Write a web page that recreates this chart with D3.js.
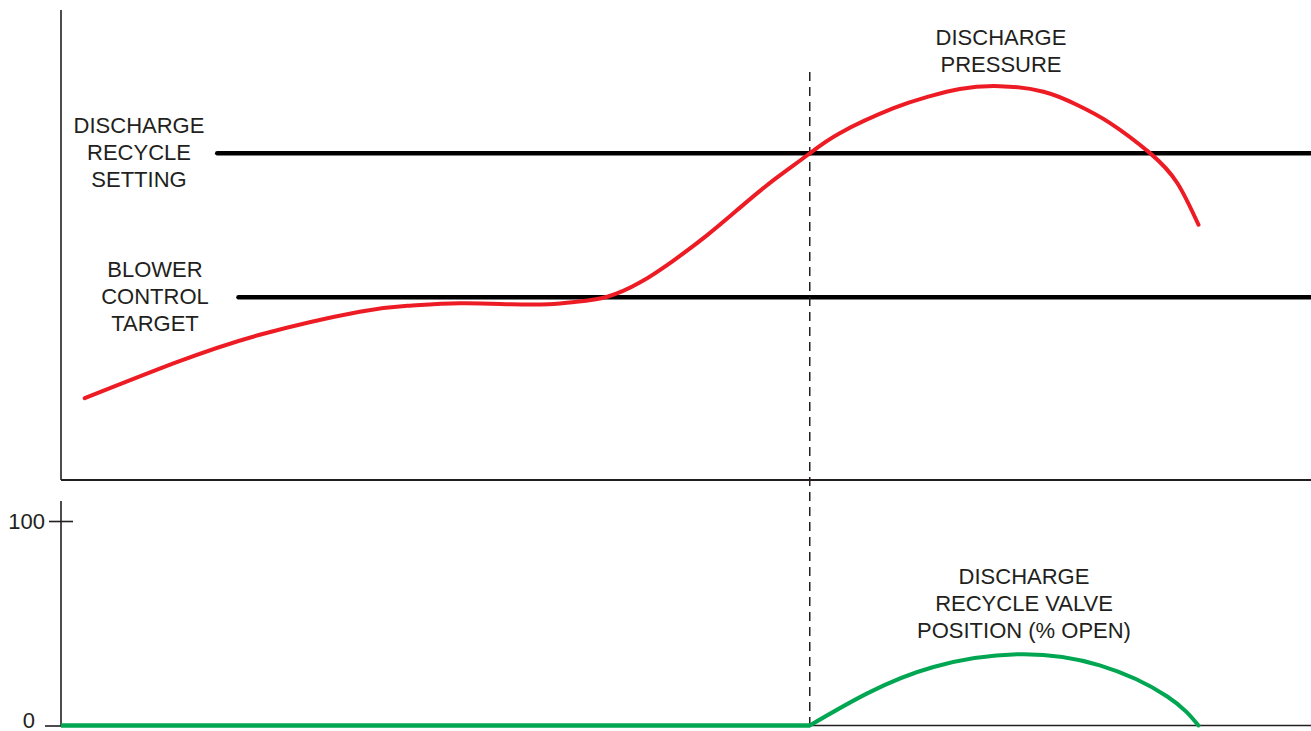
<!DOCTYPE html>
<html>
<head>
<meta charset="utf-8">
<script src="https://cdn.jsdelivr.net/npm/d3@7"></script>
<style>
  body { margin: 0; background: #fff; }
  text { font-family: "Liberation Sans", Arial, sans-serif; fill: #231f20; }
</style>
</head>
<body>
<svg id="chart"></svg>
<script>
// time runs 0..100, pressure 0..100 (arbitrary), valve 0..100 % open
let pressureT = [1.9, 9.1, 15.9, 23.9, 27.9, 31.9, 36.0, 39.0, 41.2, 43.7, 46.3, 49.0, 51.7, 54.3, 57.0, 59.7, 62.3, 66.6, 69.3, 71.9, 75.1, 78.6, 81.3, 83.9, 87.1, 89.3, 91.0];
let pressureV = [17.4, 24.9, 30.9, 35.8, 37.1, 37.6, 37.4, 37.4, 37.9, 39.0, 42.0, 46.7, 52.1, 57.9, 63.8, 69.1, 73.8, 79.1, 81.5, 83.2, 83.8, 82.6, 79.8, 76.0, 69.6, 63.2, 54.3];

let valveFlatT = [0, 59.9];
let valveFlatV = [0, 0];
let valveT = [59.9, 64.5, 69.8, 76.5, 83.1, 88.5, 91.0];
let valveV = [0, 15.7, 28.6, 34.8, 29.4, 14.2, 0];

let recycleSetting = 69.5;
let recycleStart = 12.5;
let blowerTarget = 38.9;
let blowerStart = 14.2;
let eventTime = 59.9;
let eventTop = 86.8;
let valveTicks = [0, 100];

let width = 1311;
let height = 731;

let svg = d3.select('#chart')
    .attr('width', width)
    .attr('height', height);

let x = d3.scaleLinear().domain([0, 100]).range([61, 1311]);
let yTop = d3.scaleLinear().domain([0, 100]).range([480, 10]);
let yBot = d3.scaleLinear().domain([0, 100]).range([725.5, 521]);

let zip = (a, b) => a.map((d, i) => [d, b[i]]);

// frames
svg.append('line')
    .attr('x1', x(0)).attr('x2', x(0))
    .attr('y1', yTop(100)).attr('y2', yTop(0))
    .attr('stroke', '#231f20').attr('stroke-width', 1.6);
svg.append('line')
    .attr('x1', x(0)).attr('x2', x(100))
    .attr('y1', yTop(0)).attr('y2', yTop(0))
    .attr('stroke', '#231f20').attr('stroke-width', 1.8);
svg.append('line')
    .attr('x1', x(0)).attr('x2', x(0))
    .attr('y1', 501).attr('y2', yBot(0))
    .attr('stroke', '#231f20').attr('stroke-width', 1.6);
svg.append('line')
    .attr('x1', x(0)).attr('x2', x(100))
    .attr('y1', yBot(0)).attr('y2', yBot(0))
    .attr('stroke', '#231f20').attr('stroke-width', 1.6);

// valve axis ticks
let axis = svg.append('g')
    .attr('transform', `translate(${x(0)},0)`)
    .call(d3.axisLeft(yBot).tickValues(valveTicks).tickSize(14).tickPadding(3));
axis.select('.domain').remove();
axis.selectAll('.tick line').attr('stroke', '#231f20').attr('stroke-width', 1.6);
axis.selectAll('.tick text')
    .attr('font-size', 22)
    .attr('font-family', '"Liberation Sans", Arial, sans-serif')
    .attr('fill', '#231f20');
axis.selectAll('.tick').filter(d => d === 100).select('line').attr('x1', 12).attr('x2', -12);
axis.selectAll('.tick').filter(d => d === 100).select('text').attr('x', -16);
axis.selectAll('.tick').filter(d => d === 0).select('line').attr('x2', -16);
axis.selectAll('.tick').filter(d => d === 0).select('text').attr('x', -26).attr('dy', '0.08em');

// threshold lines
svg.append('line')
    .attr('x1', x(recycleStart)).attr('x2', x(100))
    .attr('y1', yTop(recycleSetting)).attr('y2', yTop(recycleSetting))
    .attr('stroke', '#000').attr('stroke-width', 4.5).attr('stroke-linecap', 'round');
svg.append('line')
    .attr('x1', x(blowerStart)).attr('x2', x(100))
    .attr('y1', yTop(blowerTarget)).attr('y2', yTop(blowerTarget))
    .attr('stroke', '#000').attr('stroke-width', 4.5).attr('stroke-linecap', 'round');

// event marker
svg.append('line')
    .attr('x1', x(eventTime)).attr('x2', x(eventTime))
    .attr('y1', yTop(eventTop)).attr('y2', yBot(0))
    .attr('stroke', '#231f20').attr('stroke-width', 1.5)
    .attr('stroke-dasharray', '9,6');

// curves
let topLine = d3.line()
    .x(d => x(d[0])).y(d => yTop(d[1]))
    .curve(d3.curveNatural);
let botLine = d3.line()
    .x(d => x(d[0])).y(d => yBot(d[1]))
    .curve(d3.curveNatural);

svg.append('path')
    .attr('d', topLine(zip(pressureT, pressureV)))
    .attr('fill', 'none').attr('stroke', '#ed1c24')
    .attr('stroke-width', 4).attr('stroke-linecap', 'round');

svg.append('path')
    .attr('d', d3.line().x(d => x(d[0])).y(d => yBot(d[1]))(zip(valveFlatT, valveFlatV)))
    .attr('fill', 'none').attr('stroke', '#00a651')
    .attr('stroke-width', 4.5);
svg.append('path')
    .attr('d', botLine(zip(valveT, valveV)))
    .attr('fill', 'none').attr('stroke', '#00a651')
    .attr('stroke-width', 4).attr('stroke-linecap', 'round');

// labels
let label = (lines, cx, cy) => {
    let t = svg.append('text')
        .attr('text-anchor', 'middle')
        .attr('font-size', 22);
    lines.forEach((s, i) => {
        t.append('tspan')
            .attr('x', cx)
            .attr('y', cy + i * 27)
            .attr('dy', '0.35em')
            .text(s);
    });
};

label(['DISCHARGE', 'RECYCLE', 'SETTING'], 139, 125);
label(['BLOWER', 'CONTROL', 'TARGET'], 155, 269);
label(['DISCHARGE', 'PRESSURE'], 1001, 37);
label(['DISCHARGE', 'RECYCLE VALVE', 'POSITION (% OPEN)'], 1024, 576);
</script>
</body>
</html>
